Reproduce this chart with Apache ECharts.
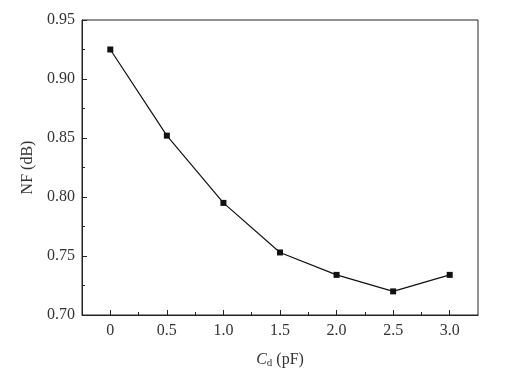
<!DOCTYPE html>
<html><head><meta charset="utf-8">
<script src="https://cdn.jsdelivr.net/npm/echarts@6/dist/echarts.min.js"></script>
<style>html,body{margin:0;padding:0;background:#fff}#c{width:505px;height:380px}</style>
</head><body><div id="c"></div>
<script>
const cd = [0, 0.5, 1.0, 1.5, 2.0, 2.5, 3.0];
const nf = [0.925, 0.852, 0.795, 0.753, 0.734, 0.720, 0.734];
const xMajorTicks = [0, 0.5, 1.0, 1.5, 2.0, 2.5, 3.0];
const xMinorTicks = [0.25, 0.75, 1.25, 1.75, 2.25, 2.75];

const font = '"Liberation Serif", "DejaVu Serif", serif';
const chart = echarts.init(document.getElementById('c'));
chart.setOption({
  animation: false,
  grid: {left: 82, right: 27, top: 20, bottom: 65, show: true, borderColor: '#222', borderWidth: 1, backgroundColor: 'transparent'},
  xAxis: [{
    type: 'value', min: -0.25, max: 3.25,
    axisLine: {onZero: false, lineStyle: {color: '#222', width: 1}},
    axisTick: {inside: true, length: 5, customValues: xMajorTicks, lineStyle: {color: '#222'}},
    axisLabel: {customValues: xMajorTicks, color: '#333', fontFamily: font, fontSize: 16, margin: 8,
      formatter: v => v === 0 ? '0' : v.toFixed(1)},
    splitLine: {show: false},
    name: '{i|C}{s|d} (pF)', nameLocation: 'middle', nameGap: 36,
    nameTextStyle: {color: '#333', fontFamily: font, fontSize: 16,
      rich: {i: {fontStyle: 'italic', fontFamily: font, fontSize: 16, color: '#333'},
             s: {fontFamily: font, fontSize: 11, color: '#333', verticalAlign: 'bottom', padding: [7, 0, 0, 0]}}}
  }, {
    type: 'value', min: -0.25, max: 3.25, position: 'bottom',
    axisLine: {show: false, onZero: false},
    axisTick: {inside: true, length: 3, customValues: xMinorTicks, lineStyle: {color: '#222'}},
    axisLabel: {show: false},
    splitLine: {show: false}
  }],
  yAxis: {
    type: 'value', min: 0.70, max: 0.95, interval: 0.05,
    axisLine: {show: true, onZero: false, lineStyle: {color: '#222', width: 1}},
    axisTick: {inside: true, length: 5, lineStyle: {color: '#222'}},
    minorTick: {show: true, splitNumber: 2, length: 3, lineStyle: {color: '#222'}},
    axisLabel: {color: '#333', fontFamily: font, fontSize: 16, margin: 7, formatter: v => v.toFixed(2)},
    splitLine: {show: false},
    name: 'NF (dB)', nameLocation: 'middle', nameGap: 46, nameRotate: 90,
    nameTextStyle: {color: '#333', fontFamily: font, fontSize: 16}
  },
  series: [{
    type: 'line', xAxisIndex: 0,
    data: cd.map((x, i) => [x, nf[i]]),
    symbol: 'rect', symbolSize: 6,
    lineStyle: {color: '#111', width: 1.2},
    itemStyle: {color: '#111'}
  }]
});
</script></body></html>
